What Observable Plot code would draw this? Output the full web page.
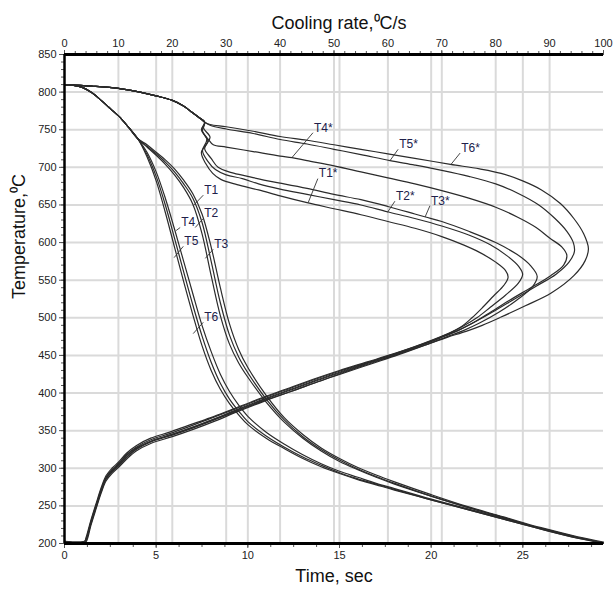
<!DOCTYPE html>
<html><head><meta charset="utf-8">
<script src="https://cdn.jsdelivr.net/npm/d3@7"></script>
<script src="https://cdn.jsdelivr.net/npm/@observablehq/plot@0.6"></script>
<style>body{margin:0;background:#fff}</style>
</head><body><div id="chart"></div>
<script>
// ---- axis ticks ----
const timeTicks = [0, 5, 10, 15, 20, 25];
const rateTicks = [0, 10, 20, 30, 40, 50, 60, 70, 80, 90, 100];
const tempTicks = [200, 250, 300, 350, 400, 450, 500, 550, 600, 650, 700, 750, 800, 850];
const timeMax = 29.4;      // right edge of time axis (s)
const rateMax = 100;       // right edge of cooling-rate axis (°C/s)

// ---- cooling curves: temperature vs time ----
const timeGrid = [0,0.5,1,1.5,2,2.5,3,3.5,4, 4.5,5,5.5,6,6.5,7,7.5,8,8.5,9,9.5,10, 11,12,13,14,15,16,17,18, 20,22,24,26,28,29.4];
const T1 = [810,809,806,799,789,778,767,753,738, 727,716,704,690,673,651,612,556,503,465,440,421, 388,361,340,323,309,298,288,279, 263,248,234,220,208,201];
const T2 = [810,809,806,799,789,778,767,753,738, 728,718,707,694,678,659,627,575,520,477,448,427, 392,364,342,325,311,299,289,280, 263,248,234,220,208,201];
const T3 = [810,809,806,799,789,778,767,753,738, 730,720,710,698,683,665,638,594,540,492,458,434, 397,367,345,327,313,301,291,282, 265,249,235,221,209,202];
const T4 = [810,809,806,799,789,778,767,753,738, 714,682,640,594,548,504,463,430,405,386,371,358, 340,326,313,302,293,285,278,271, 258,245,232,219,207,200];
const T5 = [810,809,806,799,789,778,767,753,738, 717,688,650,606,561,517,476,441,413,392,376,362, 343,328,315,304,294,286,279,272, 258,245,232,219,207,201];
const T6 = [810,809,806,799,789,778,767,753,738, 720,694,659,618,575,532,490,455,425,402,384,369, 348,332,318,306,296,288,280,273, 259,246,233,220,208,201];

// ---- cooling-rate curves: [cooling rate °C/s, temperature °C] ----
const rateT1 = [[0,810],[5,808],[10,805],[14,800],[17,795],[20,789],[22,782],[23.5,774],[25,766],[26,760],
 [25.6,748],[26.6,735],[25.4,720],[26.2,705],[27.5,692],[29,684],[32,677],[36,670],[40,662],[45,653],[50,645],[55,637],[60,628],[65,619],[70,608],[74,597],[77,587],[80,574],[81.8,563],[82.3,554],[81.5,543],[79.6,529],[77.6,514],[75.6,500],[73.6,488],[71,478],[67,466],[62,452],[57,440],[52,428],[47,415],[42,402],[37,389],[32,375],[28,363],[24,352],[20,342],[16,333],[13.3,323],[11.5,312],[10,301],[8.8,293],[7.7,283],[6.8,267],[5.9,247],[4.9,224],[4.2,205],[3.9,202],[0,202]];
const rateT2 = [[0,810],[5,808],[10,805],[14,800],[17,795],[20,789],[22,782],[23.5,774],[25,766],[26,760],
 [25.4,750],[26.4,737],[25.6,722],[26.6,708],[28,697],[30,690],[33,685],[36,678],[40,671],[45,664],[50,657],[55,650],[59.9,641],[65,632],[70,622],[75,610],[79,597],[82,583],[84.3,568],[85,558],[84.2,546],[81.8,530],[79,514],[76.5,500],[74,489],[71.5,480],[67,467],[62,454],[57,442],[52,430],[47,418],[42,405],[37,392],[32,378],[28,366],[24,355],[20,345],[16,336],[13.3,326],[11.5,315],[10,304],[8.8,296],[7.7,286],[6.8,270],[5.9,250],[4.9,227],[4.1,206],[3.8,202],[0,202]];
const rateT3 = [[0,810],[5,808],[10,805],[14,800],[17,795],[20,789],[22,782],[23.5,774],[25,766],[26,760],
 [25.8,752],[27,740],[26,725],[27.2,712],[28.5,700],[31,693],[34,688],[37,683],[40,679],[45,672],[50,664],[55,657],[60,648],[65,638],[67,634],[70,628],[75,615],[80,600],[84,584],[86.5,569],[87.7,555],[86.8,541],[84,524],[80.5,507],[77,493],[74,483],[71,475],[67,464],[62,451],[57,439],[52,427],[47,415],[42,402],[37,390],[32,376],[28,365],[24,354],[20,344],[16,335],[13.3,325],[11.5,314],[10,303],[8.8,295],[7.7,285],[6.8,269],[5.9,249],[4.9,226],[4.0,205],[3.7,202],[0,202]];
const rateT4 = [[0,810],[5,808],[10,805],[14,800],[17,795],[20,789],[22,782],[23.5,774],[25,766],[26,760],
 [25.5,750],[26.6,738],[27.6,730],[30,727],[35,721],[40,715],[42.2,713],[45,709],[50,702],[55,694],[60,686],[65,678],[70,669],[75,659],[80,647],[84,634],[87.5,620],[90,606],[92.3,594],[93.2,583],[92.6,570],[90.2,556],[86.5,540],[82.5,523],[78.5,505],[75.5,492],[73,483],[70,474],[66,463],[61,451],[56,440],[51,429],[46,417],[41,404],[36,391],[31,377],[27,366],[23,355],[19.5,346],[16,338],[13.3,328],[11.5,318],[10,306],[8.8,298],[7.7,288],[6.8,272],[5.9,252],[4.9,229],[4.1,207],[3.8,203],[0,203]];
const rateT5 = [[0,810],[5,808],[10,805],[14,800],[17,795],[20,789],[22,782],[23.5,774],[25,766],[26,760],
 [27,756],[30,751],[35,745],[40,737],[45,731],[50,724],[55,717],[60.4,709],[65,703],[70,696],[75,688],[80,678],[84,666],[88,650],[91,632],[93.2,615],[94.4,600],[94.6,588],[93.6,574],[91.2,558],[87.5,542],[83.5,525],[79.5,508],[76,494],[73.2,484],[70,475],[66,464],[61,452],[56,441],[51,430],[46,418],[41,405],[36,392],[31,378],[27,367],[23,357],[19.5,348],[16,340],[13.3,330],[11.5,320],[10,308],[8.8,300],[7.7,290],[6.8,274],[5.9,254],[4.9,231],[4.0,208],[3.7,203],[0,203]];
const rateT6 = [[0,810],[5,808],[10,805],[14,800],[17,795],[20,789],[22,782],[23.5,774],[25,766],[26,760],
 [27,757],[30,754],[35,748],[40,741],[45,736],[50,730],[55,724],[60,718],[65,712],[71.6,704],[77,698],[81,692],[85,682],[88.5,670],[92,652],[94.5,632],[96.3,612],[97.2,592],[96.6,576],[94.5,556],[90.3,533],[85.5,516],[81,501],[77.5,490],[74.5,482],[71,474],[67,464],[62,452],[57,441],[52,429],[47,417],[42,404],[37,391],[32,377],[28,366],[24,355],[20,345],[16.5,337],[13.3,327],[11.5,317],[10,305],[8.8,297],[7.7,287],[6.8,271],[5.9,251],[4.9,228],[4.0,206],[3.7,202],[0,202]];

// ---- curve labels (annotation positions) ----
const coolNames = ["T1","T2","T3","T4","T5","T6"];
const coolLabelAt = [[7.57,663],[7.57,632],[8.11,591],[6.31,620],[6.48,595],[7.57,494]];   // time, temp
const coolLabelTo = [[7.02,649],[7.13,620],[7.68,579],[6.09,616],[5.98,580],[7.02,479]];
const rateNames = ["T4*","T5*","T6*","T1*","T2*","T3*"];
const rateLabelAt = [[46.1,746],[61.9,724],[73.4,719],[47,685],[61.3,655],[67.8,649]];      // rate, temp
const rateLabelTo = [[42.2,713],[60.4,709],[71.6,703],[45.2,653],[59.9,640],[66.9,634]];

// cooling rate is drawn against the top axis: map rate units onto the shared x scale
const R = v => v * timeMax / rateMax;

const coolSeries = [T1, T2, T3, T4, T5, T6];
const rateSeries = [rateT1, rateT2, rateT3, rateT4, rateT5, rateT6];
const lineColor = "#2b2b2b";
const gridColor = "#dadada";
const tickColor = "#555";
const textColor = "#222";

const marks = [];
// grid
marks.push(Plot.ruleX(timeTicks.filter(t => t > 0), {stroke: gridColor, strokeWidth: 2}));
marks.push(Plot.ruleX(rateTicks.filter(r => r > 0 && r < rateMax).map(R), {stroke: gridColor, strokeWidth: 2}));
marks.push(Plot.ruleY(tempTicks.filter(t => t > 200 && t < 850), {stroke: gridColor, strokeWidth: 2}));

// curves
coolSeries.forEach(vals => {
  marks.push(Plot.line(timeGrid.map((t, i) => ({t, T: vals[i]})), {x: "t", y: "T", curve: "catmull-rom", stroke: lineColor, strokeWidth: 1.2}));
});
rateSeries.forEach(pts => {
  marks.push(Plot.line(pts, {x: d => R(d[0]), y: d => d[1], curve: "catmull-rom", stroke: lineColor, strokeWidth: 1.2}));
});

// labels & leaders
const ci = d3.range(coolNames.length);
marks.push(Plot.link(ci, {x1: i => coolLabelAt[i][0], y1: i => coolLabelAt[i][1], x2: i => coolLabelTo[i][0], y2: i => coolLabelTo[i][1], stroke: "#333", strokeWidth: 0.9}));
marks.push(Plot.text(ci, {x: i => coolLabelAt[i][0], y: i => coolLabelAt[i][1], text: i => coolNames[i], textAnchor: "start", dx: 1, dy: -5, fontSize: 12, fill: "#20204a"}));
const ri = d3.range(rateNames.length);
marks.push(Plot.link(ri, {x1: i => R(rateLabelAt[i][0]), y1: i => rateLabelAt[i][1], x2: i => R(rateLabelTo[i][0]), y2: i => rateLabelTo[i][1], stroke: "#333", strokeWidth: 0.9}));
marks.push(Plot.text(ri, {x: i => R(rateLabelAt[i][0]), y: i => rateLabelAt[i][1], text: i => rateNames[i], textAnchor: "start", dx: 1, dy: -5, fontSize: 12, fill: "#20204a"}));

// axes: minor ticks
marks.push(Plot.axisX(d3.range(0, timeMax, 1.25), {anchor: "bottom", tickSize: 4, fill: "none", stroke: tickColor, label: null}));
marks.push(Plot.axisX(d3.range(0, rateMax + 1, 2).map(R), {anchor: "top", tickSize: 4, fill: "none", stroke: tickColor, label: null}));
marks.push(Plot.axisY(d3.range(200, 851, 10), {anchor: "left", tickSize: 3, fill: "none", stroke: tickColor, label: null}));
// axes: major ticks + labels
marks.push(Plot.axisX(timeTicks, {anchor: "bottom", tickSize: 5, tickPadding: 3, stroke: tickColor, fill: textColor, fontSize: 11, label: null, tickFormat: d => d}));
marks.push(Plot.axisX(rateTicks.map(R), {anchor: "top", tickSize: 5, tickPadding: 3, stroke: tickColor, fill: textColor, fontSize: 11, label: null, tickFormat: d => Math.round(d * rateMax / timeMax)}));
marks.push(Plot.axisY(tempTicks, {anchor: "left", tickSize: 5, tickPadding: 3, stroke: tickColor, fill: textColor, fontSize: 11, label: null, tickFormat: d => d}));
// axis lines
marks.push(Plot.ruleX([0], {stroke: "#000", strokeWidth: 2.5}));
marks.push(Plot.ruleY([850], {stroke: "#000", strokeWidth: 3}));
marks.push(Plot.ruleY([200], {stroke: "#000", strokeWidth: 3}));
// axis titles
marks.push(Plot.text(["Cooling rate,⁰C/s"], {frameAnchor: "top", dy: -38, dx: 5, fontSize: 18, fill: "#111"}));
marks.push(Plot.text(["Time, sec"], {frameAnchor: "bottom", dy: 38, fontSize: 18, fill: "#111"}));
marks.push(Plot.text(["Temperature,⁰C"], {frameAnchor: "left", dx: -45, rotate: -90, fontSize: 18, fill: "#111"}));

const chart = Plot.plot({
  width: 615, height: 592,
  marginTop: 54, marginBottom: 49, marginLeft: 64, marginRight: 12,
  x: {domain: [0, timeMax], axis: null},
  y: {domain: [200, 850], axis: null},
  style: {fontFamily: "'Liberation Sans', Arial, sans-serif", background: "#fff", overflow: "visible"},
  marks
});
document.getElementById("chart").appendChild(chart);
</script>
</body></html>
